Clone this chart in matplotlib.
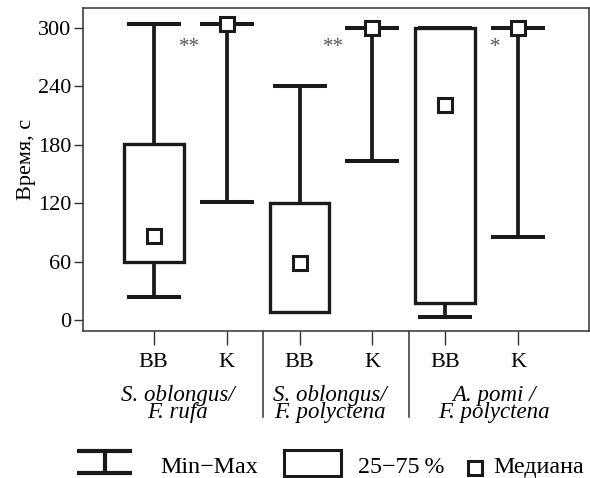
import matplotlib
matplotlib.use("Agg")
import matplotlib.pyplot as plt
import matplotlib.transforms as mtransforms
from matplotlib.lines import Line2D
from matplotlib.patches import Rectangle
import numpy as np

# ---- data ----
tick_labels = ["BB", "K", "BB", "K", "BB", "K"]
group_line1 = ["S. oblongus/", "S. oblongus/", "A. pomi /"]
group_line2 = ["F. rufa", "F. polyctena", "F. polyctena"]
v_min = [24, 121, 8, 163, 3, 85]
v_max = [304, 304, 240, 300, 300, 300]
q1 = [60, np.nan, 8, np.nan, 18, np.nan]
q3 = [181, np.nan, 120, np.nan, 300, np.nan]
median = [87, 304, 58.5, 300, 221, 300]
signif = ["**", "**", "*"]
signif_x = [1.49, 3.47, 5.68]
signif_y = [280, 280, 280]
group_x = [1.33, 3.42, 5.67]
yticks = [0, 60, 120, 180, 240, 300]

W, H = 590, 478
plt.rcParams['font.family'] = ['Liberation Serif', 'DejaVu Serif']
fig = plt.figure(figsize=(W / 100, H / 100), dpi=100)
ax = fig.add_axes([83 / W, 1 - 331 / H, 506 / W, 323 / H])

K = '#1a1a1a'
x = np.arange(1, len(tick_labels) + 1)
capw = 0.74
boxw = 0.82

# whiskers
ax.vlines(x, v_min, v_max, colors=K, lw=2.7, zorder=2)
ax.hlines(v_min, x - capw / 2, x + capw / 2, colors=K, lw=2.9, zorder=2, capstyle='butt')
ax.hlines(v_max, x - capw / 2, x + capw / 2, colors=K, lw=2.9, zorder=2, capstyle='butt')
# boxes
q1a = np.array(q1, dtype=float)
q3a = np.array(q3, dtype=float)
m = ~np.isnan(q1a)
ax.bar(x[m], (q3a - q1a)[m], bottom=q1a[m], width=boxw, facecolor='white',
       edgecolor=K, linewidth=2.4, zorder=3)
# medians
ax.plot(x, median, 's', ms=9.8, mfc='white', mec=K, mew=2.2, zorder=4, clip_on=False)

# significance
for sx, sy, s in zip(signif_x, signif_y, signif):
    ax.text(sx, sy, s, ha='center', va='center', fontsize=15, color='#555555')

ax.set_xlim(0.03, 6.97)
ax.set_ylim(-11, 320.5)
ax.set_yticks(yticks)
ax.set_yticklabels([str(v) for v in yticks])
ax.set_xticks(x)
ax.set_xticklabels(tick_labels)
ax.tick_params(axis='y', direction='out', length=6.5, width=1, pad=2, labelsize=16, color='#333333')
ax.tick_params(axis='x', direction='out', length=10, width=1, pad=6, labelsize=16, color='#333333')
for sp in ax.spines.values():
    sp.set_linewidth(1.1)
    sp.set_color('#333333')

ax.set_ylabel("Время, с", fontsize=16)
ax.yaxis.set_label_coords(-0.093, 0.53)

# separators
trans_sep = mtransforms.blended_transform_factory(ax.transData, ax.transAxes)
for sx in [2.5, 4.5]:
    ax.plot([sx, sx], [0, -0.266], transform=trans_sep, color='#333333', lw=1.1, clip_on=False)

# group labels (two tight lines in one text)
trans_g = mtransforms.blended_transform_factory(ax.transData, fig.transFigure)
for gx, l1, l2 in zip(group_x, group_line1, group_line2):
    ax.text(gx, 1 - 418 / H, l1 + "\n" + l2, transform=trans_g, ha='center', va='baseline',
            multialignment='center', fontsize=16.5, style='italic', linespacing=0.78)

# legend (figure pixel coords)
def fx(px):
    return px / W

def fy(py):
    return 1 - py / H

lw_leg = 3.0
fig.add_artist(Line2D([fx(77), fx(132)], [fy(451), fy(451)], color=K, lw=lw_leg, solid_capstyle='butt'))
fig.add_artist(Line2D([fx(77), fx(132)], [fy(473), fy(473)], color=K, lw=lw_leg, solid_capstyle='butt'))
fig.add_artist(Line2D([fx(105), fx(105)], [fy(451), fy(473)], color=K, lw=lw_leg, solid_capstyle='butt'))
fig.add_artist(Rectangle((fx(284), fy(476)), fx(341) - fx(284), fy(450) - fy(476),
                         facecolor='white', edgecolor=K, lw=2.2, transform=fig.transFigure))
fig.add_artist(Line2D([fx(474.5)], [fy(467.5)], marker='s', ms=9.8, mfc='white', mec=K, mew=2.2,
                      linestyle='none'))
fig.text(fx(160), fy(477.8), "Min\u2212Max", fontsize=17.3, va='bottom', ha='left')
fig.text(fx(358), fy(477.8), "25\u221275\u2009%", fontsize=17.3, va='bottom', ha='left')
fig.text(fx(493), fy(477.8), "Медиана", fontsize=17.3, va='bottom', ha='left')

fig.savefig("out.png", dpi=100)
